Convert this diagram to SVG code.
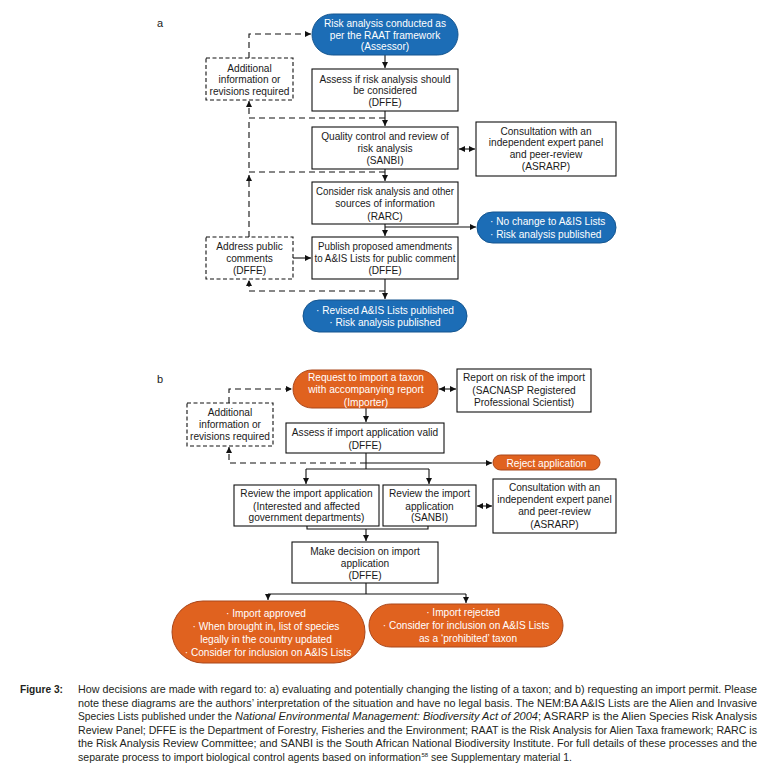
<svg xmlns="http://www.w3.org/2000/svg" width="760" height="780" viewBox="0 0 760 780">
<defs>
<marker id="ah" viewBox="0 0 6 6" refX="6" refY="3" markerWidth="6" markerHeight="6" markerUnits="userSpaceOnUse" orient="auto-start-reverse"><path d="M0,0 L6,3 L0,6 z" fill="#111"/></marker>
</defs>
<style>
.box{fill:#fff;stroke:#111;stroke-width:1.1}
.dbox{fill:#fff;stroke:#111;stroke-width:1.1;stroke-dasharray:4,2.5}
.blue{fill:#1c6db6;stroke:#14558f;stroke-width:1}
.orange{fill:#e0621f;stroke:#a9461a;stroke-width:1}
text{font-family:"Liberation Sans",Arial,sans-serif;font-size:10.15px;fill:#1a1a1a}
.c{text-anchor:middle}
.w{fill:#fff}
.sol{fill:none;stroke:#111;stroke-width:1.1}
.arr{marker-end:url(#ah)}
.dbl{marker-start:url(#ah);marker-end:url(#ah)}
.dash{fill:none;stroke:#111;stroke-width:1.1;stroke-dasharray:6,4}
.lab{font-size:11px}
.cap{font-family:"Liberation Sans Narrow","Liberation Sans",Arial,sans-serif;font-size:10.6px;fill:#231f20}
.sup{font-family:"Liberation Sans Narrow","Liberation Sans",Arial,sans-serif;font-size:6px;fill:#231f20}
</style>

<text class="lab" x="157" y="27">a</text>
<text class="lab" x="157" y="383">b</text>

<g id="connectors">
<path class="dash arr" d="M249,58 V34 H311"/>
<path class="sol arr" d="M385,55 V68"/>
<path class="sol arr" d="M385,111 V126"/>
<path class="dash arr" d="M385,118 H249 V101"/>
<path class="sol arr" d="M385,169 V181"/>
<path class="dash" d="M385,172 H249 V118"/>
<path class="dash arr" d="M249,237 V175"/>
<path class="sol arr" d="M385,224 V236"/>
<path class="sol arr" d="M385,227 H476"/>
<path class="sol arr" d="M293,258 H311"/>
<path class="sol arr" d="M385,279 V299"/>
<path class="dash arr" d="M385,291 H249 V280"/>
<path class="sol dbl" d="M459,149 H475"/>

<path class="dash arr" d="M229,403 V389 H292"/>
<path class="sol dbl" d="M439,389 H456"/>
<path class="sol arr" d="M366,408 V422"/>
<path class="sol" d="M366,453 V469"/>
<path class="dash arr" d="M366,463 H229 V447"/>
<path class="sol arr" d="M366,463 H492"/>
<path class="sol" d="M306,469 H429"/>
<path class="sol arr" d="M306,469 V484"/>
<path class="sol arr" d="M429,469 V484"/>
<path class="sol dbl" d="M477,506 H492"/>
<path class="sol" d="M307,526 V529 H428 V526"/>
<path class="sol arr" d="M366,529 V541"/>
<path class="sol" d="M366,583 V594 M268,594 H466"/>
<path class="sol arr" d="M268,594 V600"/>
<path class="sol arr" d="M466,594 V603"/>
</g>

<g id="a-start">
<rect class="blue" x="312" y="14" width="146" height="41" rx="20.5"/>
<text class="c w" x="385" y="27">Risk analysis conducted as</text>
<text class="c w" x="385" y="38.5">per the RAAT framework</text>
<text class="c w" x="385" y="50">(Assessor)</text>
</g>
<g id="a-additional">
<rect class="dbox" x="206" y="58" width="87" height="42"/>
<text class="c" x="249.5" y="71.5">Additional</text>
<text class="c" x="249.5" y="83">information or</text>
<text class="c" x="249.5" y="94.5">revisions required</text>
</g>
<g id="a-assess">
<rect class="box" x="312" y="69" width="146" height="42"/>
<text class="c" x="385" y="82.5">Assess if risk analysis should</text>
<text class="c" x="385" y="94">be considered</text>
<text class="c" x="385" y="106">(DFFE)</text>
</g>
<g id="a-quality">
<rect class="box" x="312" y="127" width="146" height="42"/>
<text class="c" x="385" y="140">Quality control and review of</text>
<text class="c" x="385" y="151.5">risk analysis</text>
<text class="c" x="385" y="163.5">(SANBI)</text>
</g>
<g id="a-consult">
<rect class="box" x="476" y="122" width="140" height="54"/>
<text class="c" x="546" y="134.5">Consultation with an</text>
<text class="c" x="546" y="146.3">independent expert panel</text>
<text class="c" x="546" y="158.1">and peer-review</text>
<text class="c" x="546" y="170">(ASRARP)</text>
</g>
<g id="a-consider">
<rect class="box" x="312" y="182" width="146" height="42"/>
<text class="c" x="385" y="195" textLength="138" lengthAdjust="spacingAndGlyphs">Consider risk analysis and other</text>
<text class="c" x="385" y="207">sources of information</text>
<text class="c" x="385" y="220">(RARC)</text>
</g>
<g id="a-nochange">
<rect class="blue" x="477" y="212" width="139" height="31" rx="15.5"/>
<text class="w" x="490" y="225">· No change to A&amp;IS Lists</text>
<text class="w" x="490" y="237.5">· Risk analysis published</text>
</g>
<g id="a-publish">
<rect class="box" x="312" y="237" width="146" height="42"/>
<text class="c" x="385" y="250" textLength="134" lengthAdjust="spacingAndGlyphs">Publish proposed amendments</text>
<text class="c" x="385" y="262" textLength="141" lengthAdjust="spacingAndGlyphs">to A&amp;IS Lists for public comment</text>
<text class="c" x="385" y="274">(DFFE)</text>
</g>
<g id="a-address">
<rect class="dbox" x="206" y="237" width="87" height="42"/>
<text class="c" x="249.5" y="250">Address public</text>
<text class="c" x="249.5" y="262">comments</text>
<text class="c" x="249.5" y="274">(DFFE)</text>
</g>
<g id="a-revised">
<rect class="blue" x="303" y="300" width="164" height="32" rx="16"/>
<text class="c w" x="385" y="314">· Revised A&amp;IS Lists published</text>
<text class="c w" x="385" y="326">· Risk analysis published</text>
</g>

<g id="b-request">
<rect class="orange" x="293" y="370" width="145" height="38" rx="19"/>
<text class="c w" x="366" y="380.5">Request to import a taxon</text>
<text class="c w" x="366" y="393">with accompanying report</text>
<text class="c w" x="366" y="405.5">(Importer)</text>
</g>
<g id="b-report">
<rect class="box" x="457" y="369" width="134" height="43"/>
<text class="c" x="524" y="381">Report on risk of the import</text>
<text class="c" x="524" y="393.5">(SACNASP Registered</text>
<text class="c" x="524" y="406">Professional Scientist)</text>
</g>
<g id="b-additional">
<rect class="dbox" x="187" y="403" width="86" height="43"/>
<text class="c" x="230" y="415.5">Additional</text>
<text class="c" x="230" y="427.5">information or</text>
<text class="c" x="230" y="440">revisions required</text>
</g>
<g id="b-assess">
<rect class="box" x="286" y="423" width="158" height="30"/>
<text class="c" x="365" y="436">Assess if import application valid</text>
<text class="c" x="365" y="449">(DFFE)</text>
</g>
<g id="b-reject">
<rect class="orange" x="493" y="455" width="107" height="15" rx="7.5"/>
<text class="c w" x="546.5" y="466.5">Reject application</text>
</g>
<g id="b-review1">
<rect class="box" x="234" y="485" width="145" height="41"/>
<text class="c" x="306.5" y="497">Review the import application</text>
<text class="c" x="306.5" y="509.5">(Interested and affected</text>
<text class="c" x="306.5" y="521">government departments)</text>
</g>
<g id="b-review2">
<rect class="box" x="383" y="485" width="93" height="41"/>
<text class="c" x="429.5" y="497">Review the import</text>
<text class="c" x="429.5" y="509.5">application</text>
<text class="c" x="429.5" y="521">(SANBI)</text>
</g>
<g id="b-consult">
<rect class="box" x="493" y="479" width="123" height="54"/>
<text class="c" x="554.5" y="491">Consultation with an</text>
<text class="c" x="554.5" y="503">independent expert panel</text>
<text class="c" x="554.5" y="515">and peer-review</text>
<text class="c" x="554.5" y="527.5">(ASRARP)</text>
</g>
<g id="b-decision">
<rect class="box" x="292" y="542" width="146" height="41"/>
<text class="c" x="365" y="555">Make decision on import</text>
<text class="c" x="365" y="567">application</text>
<text class="c" x="365" y="578.5">(DFFE)</text>
</g>
<g id="b-approved">
<rect class="orange" x="172" y="601" width="193" height="62" rx="31"/>
<text class="c w" x="266" y="617">· Import approved</text>
<text class="c w" x="266" y="630">· When brought in, list of species</text>
<text class="c w" x="266" y="643">legally in the country updated</text>
<text class="c w" x="268" y="656">· Consider for inclusion on A&amp;IS Lists</text>
</g>
<g id="b-rejected">
<rect class="orange" x="369" y="604" width="194" height="43" rx="21.5"/>
<text class="c w" x="463" y="616">· Import rejected</text>
<text class="c w" x="466" y="629">· Consider for inclusion on A&amp;IS Lists</text>
<text class="c w" x="468" y="641.5">as a ‘prohibited’ taxon</text>
</g>

<g id="caption">
<text class="cap" x="20" y="693" font-weight="bold" textLength="43" lengthAdjust="spacingAndGlyphs">Figure 3:</text>
<text class="cap" x="78" y="693" textLength="679" lengthAdjust="spacingAndGlyphs">How decisions are made with regard to: a) evaluating and potentially changing the listing of a taxon; and b) requesting an import permit. Please</text>
<text class="cap" x="78" y="706.5" textLength="679" lengthAdjust="spacingAndGlyphs">note these diagrams are the authors’ interpretation of the situation and have no legal basis. The NEM:BA A&amp;IS Lists are the Alien and Invasive</text>
<text class="cap" x="78" y="720" textLength="154" lengthAdjust="spacingAndGlyphs">Species Lists published under the</text>
<text class="cap" x="235" y="720" font-style="italic" textLength="303" lengthAdjust="spacingAndGlyphs">National Environmental Management: Biodiversity Act of 2004</text>
<text class="cap" x="538" y="720" textLength="219" lengthAdjust="spacingAndGlyphs">; ASRARP is the Alien Species Risk Analysis</text>
<text class="cap" x="78" y="733.5" textLength="679" lengthAdjust="spacingAndGlyphs">Review Panel; DFFE is the Department of Forestry, Fisheries and the Environment; RAAT is the Risk Analysis for Alien Taxa framework; RARC is</text>
<text class="cap" x="78" y="747" textLength="679" lengthAdjust="spacingAndGlyphs">the Risk Analysis Review Committee; and SANBI is the South African National Biodiversity Institute. For full details of these processes and the</text>
<text class="cap" x="78" y="760.5" textLength="343" lengthAdjust="spacingAndGlyphs">separate process to import biological control agents based on information</text>
<text class="sup" x="421.5" y="757">58</text>
<text class="cap" x="431" y="760.5" textLength="141" lengthAdjust="spacingAndGlyphs">see Supplementary material 1.</text>
</g>
</svg>
